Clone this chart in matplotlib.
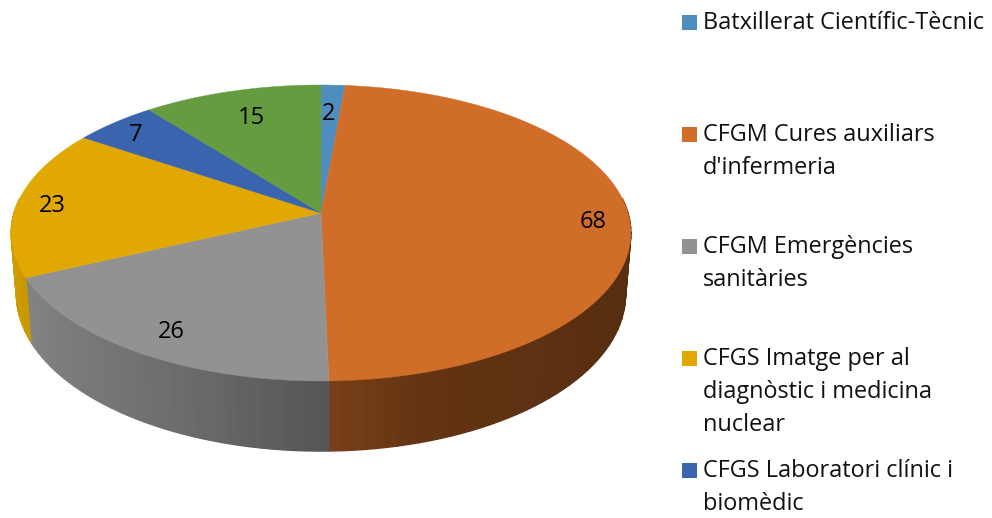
import numpy as np
import matplotlib
matplotlib.use('Agg')
import matplotlib.pyplot as plt

values = [2, 68, 26, 23, 7, 15]
colors = ['#4F8DBE', '#D06D28', '#929292', '#E0A800', '#3A64AE', '#659C3F']
legend_lines = [
    ["Batxillerat Científic-Tècnic"],
    ["CFGM Cures auxiliars", "d'infermeria"],
    ["CFGM Emergències", "sanitàries"],
    ["CFGS Imatge per al", "diagnòstic i medicina", "nuclear"],
    ["CFGS Laboratori clínic i", "biomèdic"],
]

W, H = 992, 518
CX, CY = 321, 213
A, B, K = 307, 145.3, 0.135
LABEL_POS = [(329, 114), (593, 222), (171, 332), (52, 206), (136, 135), (251, 118)]
LEGEND_Y = [22, 134, 246, 358, 470]
LINE_STEP = 33

# wall shade by horizontal position, left to right
SHADE_X = [12, 60, 200, 329, 420, 632]
SHADE_F = [0.92, 0.85, 0.72, 0.58, 0.48, 0.42]


def project(theta):
    # perspective view of the pie disc, theta clockwise from the top
    u, v = np.sin(theta), np.cos(theta)
    d = 1 + K * v
    return A * u / d, -B * v / d


def top_rim(theta):
    x, y = project(theta)
    return CX + x, CY + y


def bottom_rim(theta):
    x, y = project(theta)
    return CX + x * 0.983, CY + y * 1.06 + 60


def shaded(color, f):
    return tuple(c * f for c in matplotlib.colors.to_rgb(color))


fig = plt.figure(figsize=(W / 100, H / 100), dpi=100)
ax = fig.add_axes([0, 0, 1, 1])
ax.set_xlim(0, W)
ax.set_ylim(H, 0)
ax.axis('off')

edges = np.cumsum([0] + values) / sum(values) * 2 * np.pi

# side wall first, the top face covers whatever is behind it
for i, color in enumerate(colors):
    t0, t1 = edges[i], edges[i + 1]
    lo, hi = max(t0, np.radians(84)), min(t1, np.radians(276))
    if hi <= lo:
        continue
    ts = np.linspace(lo, hi, int((hi - lo) * 30) + 2)
    for a, b in zip(ts[:-1], ts[1:]):
        mid = np.linspace(a, b, 6)
        xt, yt = top_rim(mid)
        xb, yb = bottom_rim(mid)
        f = np.interp(xt.mean(), SHADE_X, SHADE_F)
        c = shaded(color, f)
        ax.fill(np.r_[xt, xb[::-1]], np.r_[yt, yb[::-1]], color=c, lw=1.0, zorder=2)

# top face
for i, color in enumerate(colors):
    ts = np.linspace(edges[i], edges[i + 1], 200)
    xs, ys = top_rim(ts)
    ax.fill(np.r_[CX, xs], np.r_[CY, ys], color=color, lw=0.3, zorder=3)

for v, (x, y) in zip(values, LABEL_POS):
    ax.text(x, y, str(v), fontsize=17, family='Open Sans', color='black',
            ha='center', va='center', zorder=4)

for i, lines in enumerate(legend_lines):
    y0 = LEGEND_Y[i]
    ax.add_patch(plt.Rectangle((682, y0 - 7.5), 15, 15, color=colors[i], lw=0, zorder=4))
    for j, line in enumerate(lines):
        ax.text(703, y0 + 1 + j * LINE_STEP, line, fontsize=16.9, family='Open Sans',
                color='#111111', ha='left', va='center', zorder=4)

fig.savefig('out.png', dpi=100)
